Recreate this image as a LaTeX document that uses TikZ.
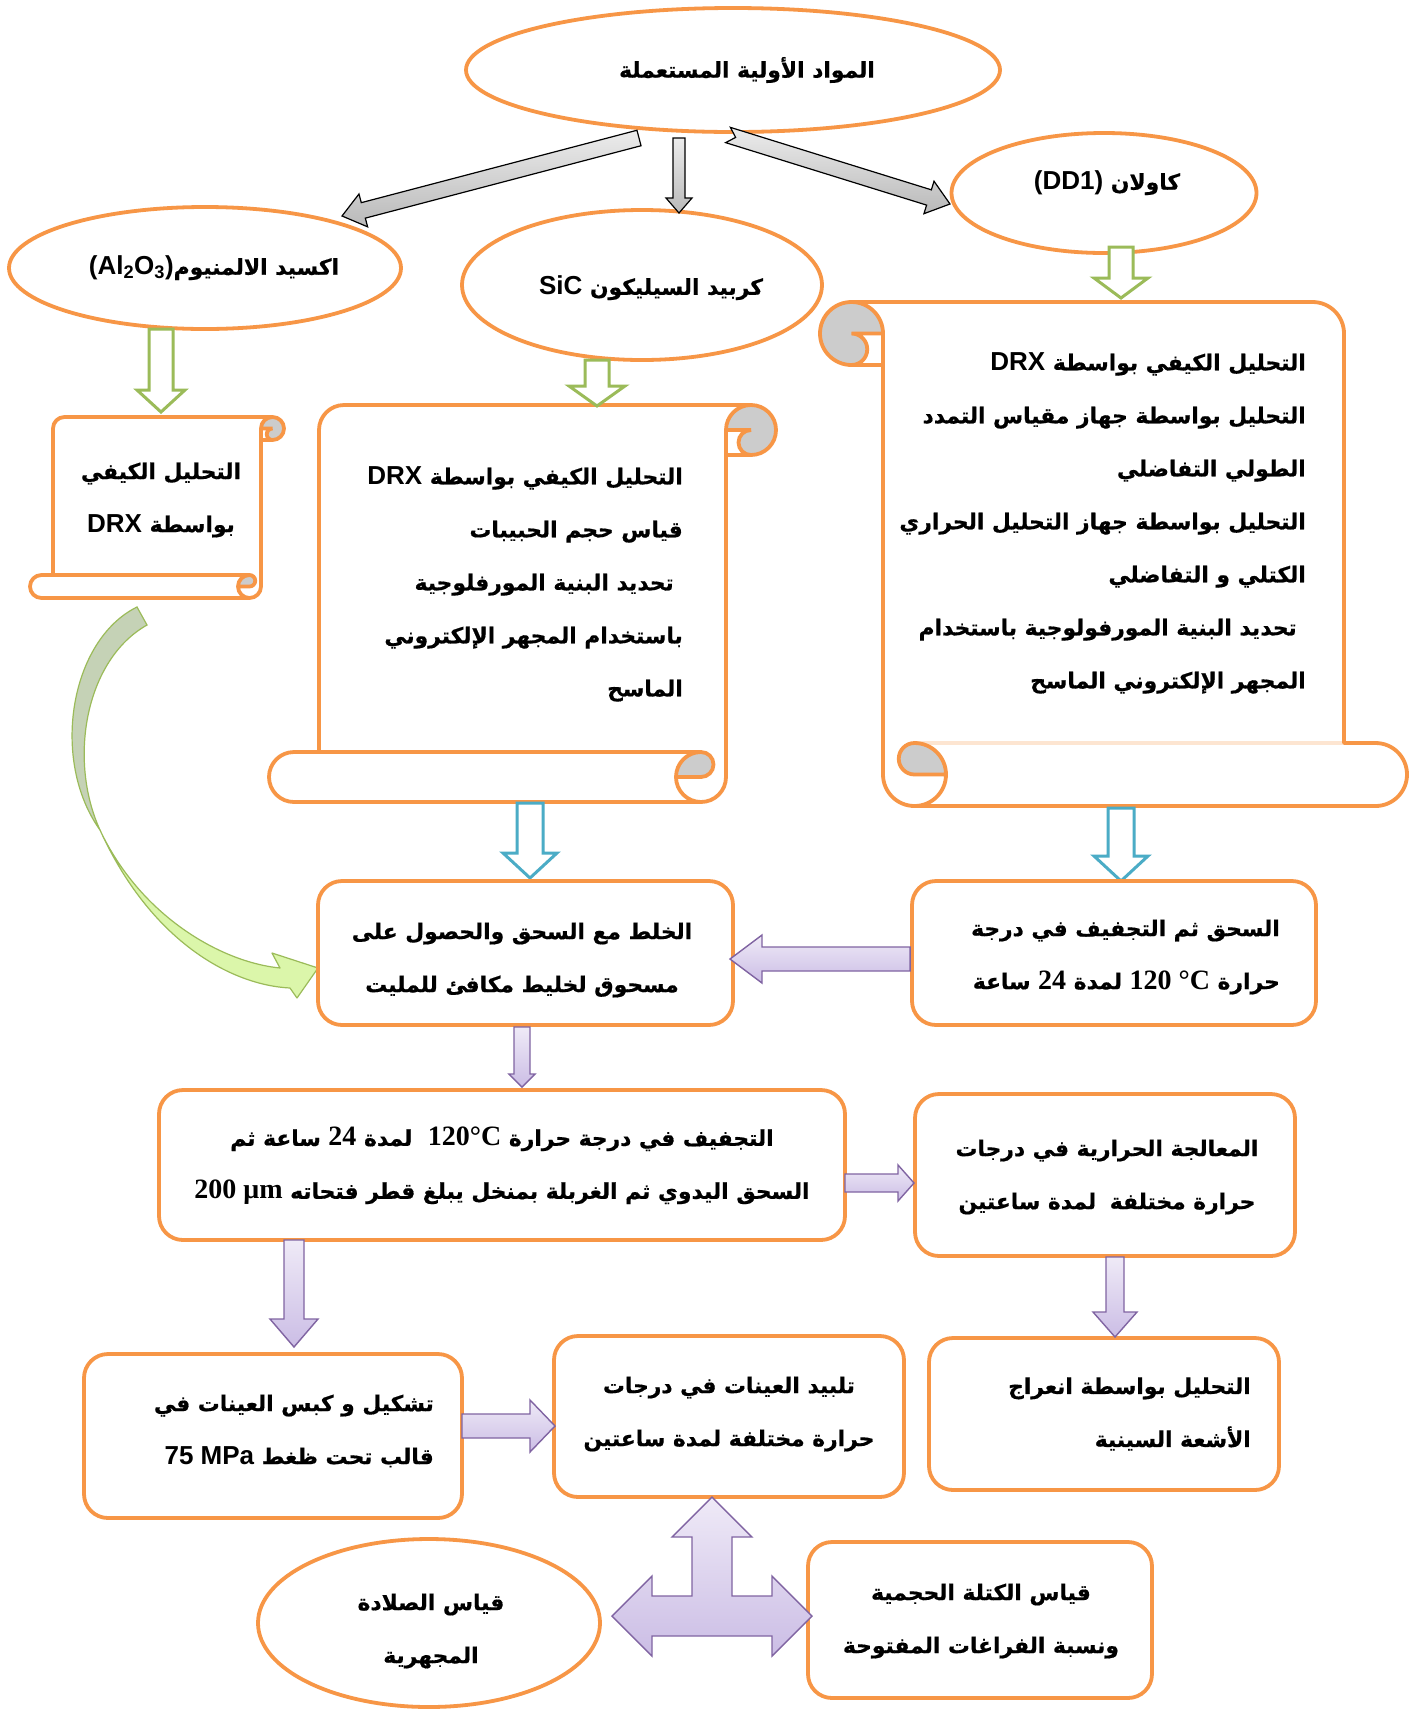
\documentclass[tikz,border=0pt]{standalone}
\usepackage{fontspec}
\usetikzlibrary{shapes.geometric,calc}
\TeXXeTstate=1
\newfontfamily\arabicfont[Script=Arabic, BoldFeatures={FakeBold=0.6}]{DejaVu Sans}
\newfontfamily\lsans{Liberation Sans}
\newfontfamily\lserif{Liberation Serif}
\definecolor{orng}{HTML}{F79646}
\definecolor{grn}{HTML}{9BBB59}
\definecolor{blu}{HTML}{4BACC6}
\definecolor{prp}{HTML}{8064A2}
\definecolor{prpA}{HTML}{EFEAF7}
\definecolor{prpB}{HTML}{CBBDE5}
\definecolor{curlc}{HTML}{CCCCCC}
\definecolor{cgA}{HTML}{C5D2B6}
\definecolor{cgB}{HTML}{DBF6AA}
\newcommand\LS[1]{\beginL{\lsans\bfseries\fontsize{26}{53}\selectfont #1}\endL}
\newcommand\LT[1]{\beginL{\lserif\bfseries\fontsize{28}{53}\selectfont #1}\endL}
\newcommand\RL[1]{\beginR #1\endR}
% block arrow: style, from, to, shaft half, head half, head length, notch
\newcommand\barrow[7]{%
 \path #2 coordinate (bas) #3 coordinate (bae);
 \path let \p1=(bas), \p2=(bae), \n1={atan2(\y2-\y1,\x2-\x1)}, \n2={veclen(\x2-\x1,\y2-\y1)} in \pgfextra{\xdef\baA{\n1}\xdef\baL{\n2}};
 \begin{scope}[shift={(bas)},rotate=\baA]
  \path[#1] (0,-#4) -- ({\baL-#6},-#4) -- ({\baL-#6},-#5) -- (\baL,0) -- ({\baL-#6},#5) -- ({\baL-#6},#4) -- (0,#4) -- (#7,0) -- cycle;
 \end{scope}}
% scroll: transform, W, H, c, colour of inner roll line
\newcommand\scrollshape[5]{%
 \begin{scope}[#1]
 \pgfmathsetmacro\sW{#2}\pgfmathsetmacro\sH{#3}\pgfmathsetmacro\sc{#4}%
 \pgfmathsetmacro\sh{#4/2}\pgfmathsetmacro\sq{#4/4}%
 \pgfmathsetmacro\sA{1.5*#4}\pgfmathsetmacro\sB{2*#4}%
 \pgfmathsetmacro\sWh{#2-#4/2}\pgfmathsetmacro\sWc{#2-#4}%
 \pgfmathsetmacro\sHc{#3-#4}\pgfmathsetmacro\sHh{#3-#4/2}%
 \fill[white] (\sc,\sHc) -- (\sc,\sh) arc[start angle=180,end angle=270,radius=\sh] -- (\sWh,0) arc[start angle=270,end angle=450,radius=\sh] -- (\sWc,\sc) -- (\sWc,\sHh) arc[start angle=0,end angle=90,radius=\sh] -- (\sh,\sH) arc[start angle=90,end angle=270,radius=\sh] -- cycle;
 \fill[curlc] (\sB,\sh) arc[start angle=0,end angle=90,radius=\sh] arc[start angle=90,end angle=270,radius=\sq] -- cycle;
 \fill[curlc] (\sc,\sHh) arc[start angle=0,end angle=270,radius=\sh] arc[start angle=270,end angle=450,radius=\sq] -- cycle;
 \draw[#5, line width=3.8pt] (\sWc,\sc) -- (\sA,\sc);
 \draw[orng, line width=3.8pt, line join=round] (\sc,\sHc) -- (\sc,\sh) arc[start angle=180,end angle=270,radius=\sh] -- (\sWh,0) arc[start angle=270,end angle=450,radius=\sh] -- (\sWc,\sc) -- (\sWc,\sHh) arc[start angle=0,end angle=90,radius=\sh] -- (\sh,\sH) arc[start angle=90,end angle=270,radius=\sh] -- cycle;
 \draw[orng, line width=3.8pt] (\sA,0) arc[start angle=270,end angle=450,radius=\sh] arc[start angle=90,end angle=270,radius=\sq] -- (\sB,\sh);
 \draw[orng, line width=3.8pt] (\sh,\sHc) arc[start angle=270,end angle=450,radius=\sq] -- (\sc,\sHh);
 \draw[orng, line width=3.8pt] (\sh,\sH) arc[start angle=90,end angle=0,radius=\sh] -- (\sc,\sHc);
 \end{scope}}
\begin{document}
\begin{tikzpicture}[x=1pt,y=-1pt,
  ell/.style={ellipse, draw=orng, line width=3.8pt, fill=white, inner sep=0pt},
  bx/.style={draw=orng, line width=3.8pt, rounded corners=24pt, fill=white, inner sep=0pt},
  ar/.style={font=\arabicfont\bfseries\fontsize{21.8}{53}\selectfont, inner sep=0pt},
  greyarr/.style={draw=black, line width=1.2pt, top color=gray!15, bottom color=gray!55},
  grnarr/.style={draw=grn, line width=3pt, fill=white},
  bluarr/.style={draw=blu, line width=3pt, fill=white},
  prparr/.style={draw=prp, line width=1.4pt, top color=prpA, bottom color=prpB},
]
\useasboundingbox (0,0) rectangle (1413,1709);
\fill[white] (0,0) rectangle (1413,1709);

% ellipses
\node[ell, minimum width=534, minimum height=124] (topE) at (733,70) {};
\node[ell, minimum width=305, minimum height=120] (kaoE) at (1104,193) {};
\node[ell, minimum width=392, minimum height=122] (aluE) at (205,268) {};
\node[ell, minimum width=360, minimum height=150] (sicE) at (642,285) {};

% grey arrows
\barrow{greyarr}{(639,138)}{(342,216)}{8}{17}{22}{0}
\barrow{greyarr}{(679,138)}{(679,213)}{6}{13}{15}{0}
\barrow{greyarr}{(728,135)}{(950,204)}{8}{17}{22}{8}

% scrolls
\scrollshape{shift={(776,802)},xscale=-1,yscale=-1}{507}{397}{50}{orng}
\scrollshape{shift={(284,598)},xscale=-1,yscale=-1}{254}{181}{23}{orng}
\scrollshape{shift={(820,806)},yscale=-1}{587}{504}{63}{orng!25}

% green arrows
\barrow{grnarr}{(161,329)}{(161,412)}{12}{24}{22}{0}
\barrow{grnarr}{(597,360)}{(597,406)}{12}{28}{20}{0}
\barrow{grnarr}{(1121,247)}{(1121,298)}{12}{27}{20}{0}
% blue arrows
\barrow{bluarr}{(530,803)}{(530,878)}{13}{27}{25}{0}
\barrow{bluarr}{(1121,808)}{(1121,881)}{13}{27}{25}{0}

% curved green arrow
\path[fill=cgA, draw=grn, line width=1.2pt] (137,607) .. controls (70,640) and (50,760) .. (100,830) .. controls (68,760) and (85,660) .. (147,625) -- cycle;
\path[fill=cgB, draw=grn, line width=1.2pt, line join=round] (100,830) .. controls (150,940) and (230,985) .. (290,988) -- (297,998) -- (318,968) -- (272,953) -- (280,968) .. controls (220,962) and (140,915) .. (100,830) -- cycle;

% boxes
\node[bx, minimum width=404, minimum height=144] (kbox) at (1114,953) {};
\node[bx, minimum width=415, minimum height=144] (mix) at (525.5,953) {};
\node[bx, minimum width=686, minimum height=150] (dry) at (502,1165) {};
\node[bx, minimum width=380, minimum height=162] (heat) at (1105,1175) {};
\node[bx, minimum width=378, minimum height=164] (shp) at (273,1436) {};
\node[bx, minimum width=350, minimum height=161] (sint) at (729,1416.5) {};
\node[bx, minimum width=350, minimum height=152] (xrd) at (1104,1414) {};
\node[bx, minimum width=344, minimum height=156] (dens) at (980,1620) {};
\node[ell, minimum width=342, minimum height=168] (hard) at (429,1623) {};

% purple arrows
\barrow{prparr}{(kbox.west |- 0,959)}{(730,959)}{12}{24}{32}{0}
\barrow{prparr}{(522,1027)}{(522,1087)}{8}{13}{13}{0}
\barrow{prparr}{(845,1183)}{(914,1183)}{9}{18}{16}{0}
\barrow{prparr}{(1115,1257)}{(1115,1337)}{9}{22}{25}{0}
\barrow{prparr}{(294,1240)}{(294,1347)}{10}{24}{28}{0}
\barrow{prparr}{(462,1426)}{(555,1426)}{12}{26}{25}{0}
\path[prparr] (712,1497) -- (752,1537) -- (732,1537) -- (732,1596) -- (772,1596) -- (772,1576) -- (812,1616) -- (772,1656) -- (772,1636) -- (652,1636) -- (652,1656) -- (612,1616) -- (652,1576) -- (652,1596) -- (692,1596) -- (692,1537) -- (672,1537) -- cycle;

% texts
\node[ar] (ttop) at (747,70) {\RL{المواد الأولية المستعملة}};
\node[ar] (tkao) at (1107,183) {\RL{كاولان \LS{(DD1)}}};
\node[ar] (talu) at (214,268) {\RL{اكسيد الالمنيوم\LS{(Al\textsubscript{2}O\textsubscript{3})}}};
\node[ar] (tsic) at (651,288) {\RL{كربيد السيليكون \LS{SiC}}};
\node[ar, align=center] (talus) at (161,500) {\RL{التحليل الكيفي}\\\RL{بواسطة \LS{DRX}}};
\node[ar, align=right, anchor=east] (tsics) at (683,584) {\RL{التحليل الكيفي بواسطة \LS{DRX}}\\\RL{قياس حجم الحبيبات}\\\RL{\hspace*{9pt}تحديد البنية المورفلوجية}\\\RL{باستخدام المجهر الإلكتروني}\\\RL{الماسح}};
\node[ar, align=right, anchor=east] (tkaos) at (1306,523) {\RL{التحليل الكيفي بواسطة \LS{DRX}}\\\RL{التحليل بواسطة جهاز مقياس التمدد}\\\RL{الطولي التفاضلي}\\\RL{التحليل بواسطة جهاز التحليل الحراري}\\\RL{الكتلي و التفاضلي}\\\RL{\hspace*{9pt}تحديد البنية المورفولوجية باستخدام}\\\RL{المجهر الإلكتروني الماسح}};
\node[ar, align=center] (tmix) at (522,960) {\RL{الخلط مع السحق والحصول على}\\\RL{مسحوق لخليط مكافئ للمليت}};
\node[ar, align=right, anchor=east] (tkbox) at (1280,957) {\RL{السحق ثم التجفيف في درجة}\\\RL{حرارة \LT{120 °C} لمدة \LT{24} ساعة}};
\node[ar, align=center] (tdry) at (502,1166) {\RL{التجفيف في درجة حرارة \LT{120°C}\hspace{8pt} لمدة \LT{24} ساعة ثم}\\\RL{السحق اليدوي ثم الغربلة بمنخل يبلغ قطر فتحاته \LT{200 μm}}};
\node[ar, align=center] (theat) at (1107,1177) {\RL{المعالجة الحرارية في درجات}\\\RL{حرارة مختلفة\hspace{6pt} لمدة ساعتين}};
\node[ar, align=right, anchor=east] (tshp) at (434,1431) {\RL{تشكيل و كبس العينات في}\\\RL{قالب تحت ظغط \LS{75 MPa}}};
\node[ar, align=center] (tsint) at (729,1414) {\RL{تلبيد العينات في درجات}\\\RL{حرارة مختلفة لمدة ساعتين}};
\node[ar, align=right, anchor=east] (txrd) at (1251,1414) {\RL{التحليل بواسطة انعراج}\\\RL{الأشعة السينية}};
\node[ar, align=center] (tdens) at (981,1621) {\RL{قياس الكتلة الحجمية}\\\RL{ونسبة الفراغات المفتوحة}};
\node[ar, align=center] (thard) at (431,1631) {\RL{قياس الصلادة}\\\RL{المجهرية}};
\end{tikzpicture}
\end{document}
